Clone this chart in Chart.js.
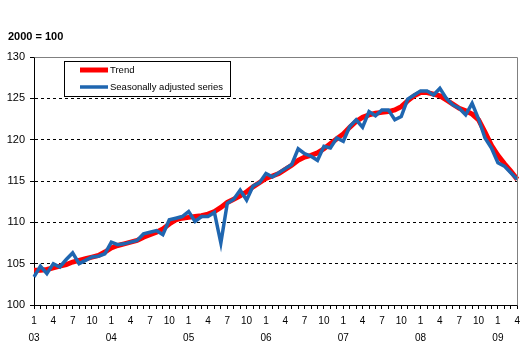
<!DOCTYPE html>
<html>
<head>
<meta charset="utf-8">
<script src="https://cdn.jsdelivr.net/npm/chart.js@4"></script>
<style>
  html, body { margin: 0; padding: 0; background: #fff; }
</style>
</head>
<body>
<canvas id="chart" width="524" height="349"></canvas>
<script>
// monthly index, Jan 2003 .. Apr 2009
const years = ['03', '04', '05', '06', '07', '08', '09'];
const tickMonths = [1, 4, 7, 10];
const monthCount = 76;

const trend = [
  104.2, 104.2, 104.3, 104.5, 104.7, 104.9, 105.2, 105.4, 105.6, 105.8, 106.0, 106.4,
  106.9, 107.2, 107.4, 107.6, 107.8, 108.2, 108.5, 108.8, 109.2, 109.8, 110.3, 110.5,
  110.6, 110.7, 110.8, 111.0, 111.3, 111.8, 112.4, 112.8, 113.2, 113.7, 114.3, 114.8,
  115.3, 115.6, 115.9, 116.4, 116.9, 117.5, 117.9, 118.1, 118.4, 118.9, 119.5, 120.1,
  120.7, 121.5, 122.2, 122.7, 123.0, 123.2, 123.3, 123.4, 123.6, 124.0, 124.7, 125.3,
  125.7, 125.7, 125.5, 125.3, 124.8, 124.3, 123.8, 123.5, 123.1, 122.4, 120.9, 119.3,
  118.1, 117.1, 116.2, 115.2
];

const seasonal = [
  103.4, 104.7, 103.8, 105.0, 104.6, 105.5, 106.3, 105.0, 105.4, 105.8, 105.9, 106.2,
  107.6, 107.3, 107.4, 107.6, 107.8, 108.6, 108.8, 109.0, 108.5, 110.3, 110.5, 110.7,
  111.3, 110.1, 110.7, 110.7, 111.2, 107.5, 112.3, 112.8, 113.9, 112.7, 114.4, 114.8,
  115.9, 115.5, 116.0, 116.5, 117.0, 118.9, 118.3, 118.0, 117.5, 119.2, 119.0, 120.2,
  119.8, 121.6, 122.4, 121.5, 123.4, 122.9, 123.6, 123.6, 122.4, 122.8, 124.9, 125.4,
  125.9, 125.9, 125.4, 126.2, 125.0, 124.2, 123.8, 123.0, 124.4, 122.5, 120.2, 119.0,
  117.2, 116.8, 116.0, 115.2
];

const labels = [];
for (let i = 0; i < monthCount; i++) {
  labels.push('20' + years[Math.floor(i / 12)] + '-' + (i % 12 + 1));
}

// gray frame on top/right, index note, legend box
const extras = {
  id: 'extras',
  afterDraw(chart) {
    const ctx = chart.ctx;
    const a = chart.chartArea;
    ctx.save();
    ctx.strokeStyle = '#808080';
    ctx.lineWidth = 1;
    ctx.beginPath();
    ctx.moveTo(Math.round(a.left) + 0.5, Math.round(a.top) + 0.5);
    ctx.lineTo(Math.round(a.right) + 0.5, Math.round(a.top) + 0.5);
    ctx.lineTo(Math.round(a.right) + 0.5, Math.round(a.bottom) + 0.5);
    ctx.stroke();

    ctx.fillStyle = '#000';
    ctx.font = 'bold 11px "Liberation Sans", Arial, sans-serif';
    ctx.textBaseline = 'middle';
    ctx.fillText('2000 = 100', 8, 37);

    // legend
    const bx = 64.5, by = 61.5, bw = 166, bh = 35;
    ctx.fillStyle = '#fff';
    ctx.fillRect(bx, by, bw, bh);
    ctx.strokeStyle = '#000';
    ctx.strokeRect(bx, by, bw, bh);
    ctx.font = '9.5px "Liberation Sans", Arial, sans-serif';
    chart.data.datasets.forEach((ds, i) => {
      const y = 70 + i * 17;
      ctx.strokeStyle = ds.borderColor;
      ctx.lineWidth = ds.borderWidth;
      ctx.beginPath();
      ctx.moveTo(80, y);
      ctx.lineTo(108, y);
      ctx.stroke();
      ctx.fillStyle = '#000';
      ctx.fillText(ds.label, 110, y);
    });
    ctx.restore();
  }
};

new Chart(document.getElementById('chart'), {
  type: 'line',
  data: {
    labels,
    datasets: [
      {
        label: 'Trend',
        data: trend,
        borderColor: '#FF0000',
        borderWidth: 5,
        pointRadius: 0,
        tension: 0,
        order: 1
      },
      {
        label: 'Seasonally adjusted series',
        data: seasonal,
        borderColor: '#1F66B0',
        borderWidth: 3.5,
        pointRadius: 0,
        tension: 0,
        order: 0
      }
    ]
  },
  options: {
    responsive: false,
    animation: false,
    events: [],
    layout: { padding: { top: 57, right: 6, bottom: 0, left: 0 } },
    plugins: {
      legend: { display: false },
      tooltip: { enabled: false }
    },
    scales: {
      x: {
        offset: false,
        afterFit(scale) { scale.height = 44; },
        grid: {
          drawOnChartArea: false,
          drawTicks: true,
          tickLength: 4,
          tickColor: '#000'
        },
        border: { color: '#000', width: 1 },
        ticks: {
          autoSkip: false,
          maxRotation: 0,
          minRotation: 0,
          padding: 4,
          color: '#000',
          font: { family: '"Liberation Sans", Arial, sans-serif', size: 10, lineHeight: '17px' },
          callback(val, idx) {
            const m = idx % 12 + 1;
            if (!tickMonths.includes(m)) return '';
            if (m === 1) return [String(m), years[Math.floor(idx / 12)]];
            return String(m);
          }
        }
      },
      y: {
        min: 100,
        max: 130,
        afterFit(scale) { scale.width = 34; },
        grid: {
          color: ctx => (ctx.tick && (ctx.tick.value === 100 || ctx.tick.value === 130)) ? 'rgba(0,0,0,0)' : '#000',
          lineWidth: 1,
          drawTicks: true,
          tickLength: 4,
          tickColor: '#000'
        },
        border: { color: '#000', width: 1, dash: [3, 3] },
        ticks: {
          stepSize: 5,
          padding: 5,
          color: '#000',
          font: { family: '"Liberation Sans", Arial, sans-serif', size: 11 }
        }
      }
    }
  },
  plugins: [extras]
});
</script>
</body>
</html>
